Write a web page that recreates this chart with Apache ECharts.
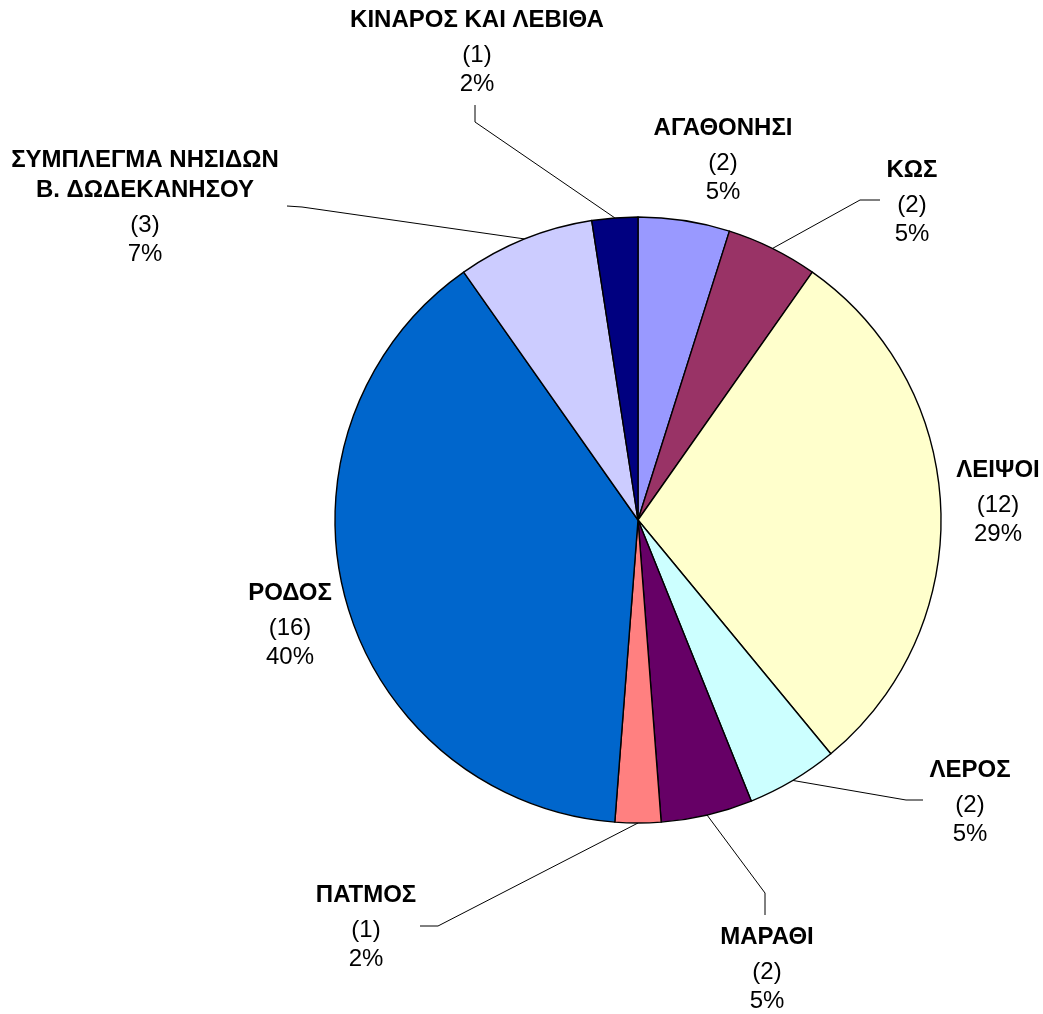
<!DOCTYPE html>
<html>
<head>
<meta charset="utf-8">
<script src="https://cdn.jsdelivr.net/npm/echarts@6/dist/echarts.min.js"></script>
<style>
html,body{margin:0;padding:0;background:#fff;}
#chart{width:1043px;height:1014px;}
</style>
</head>
<body>
<div id="chart"></div>
<script>
// Data (clockwise from 12 o'clock)
const categories = ['ΑΓΑΘΟΝΗΣΙ', 'ΚΩΣ', 'ΛΕΙΨΟΙ', 'ΛΕΡΟΣ', 'ΜΑΡΑΘΙ', 'ΠΑΤΜΟΣ', 'ΡΟΔΟΣ', 'ΣΥΜΠΛΕΓΜΑ ΝΗΣΙΔΩΝ\nΒ. ΔΩΔΕΚΑΝΗΣΟΥ', 'ΚΙΝΑΡΟΣ ΚΑΙ ΛΕΒΙΘΑ'];
const counts = [2, 2, 12, 2, 2, 1, 16, 3, 1];
const percentLabels = ['5%', '5%', '29%', '5%', '5%', '2%', '40%', '7%', '2%'];

// Styling / layout (not data)
const colors = ['#9999FF', '#993366', '#FFFFCC', '#CCFFFF', '#660066', '#FF8080', '#0066CC', '#CCCCFF', '#000080'];
const labelAt = [[723,157],[912,199],[998,499],[970,799],[767,966],[366,924],[290,622],[145,204],[477,49]];
const leader = [null, [[860,200],[880,200]], null, [[906,800],[923,800]], [[765,893],[765,915]], [[438,926],[420,926]], null, [[302,207],[287,206]], [[475,122],[475,105]]];

const FONT = '"Liberation Sans", Arial, sans-serif';
const chart = echarts.init(document.getElementById('chart'), null, {renderer: 'canvas'});
const data = categories.map((c, i) => ({
  name: c,
  value: counts[i],
  itemStyle: {color: colors[i]},
  labelLine: {show: !!leader[i]}
}));

chart.setOption({
  backgroundColor: '#ffffff',
  animation: false,
  series: [{
    type: 'pie',
    center: [638, 520],
    radius: 303,
    startAngle: 90,
    clockwise: true,
    avoidLabelOverlap: false,
    data: data,
    itemStyle: {borderColor: '#000', borderWidth: 1.4},
    emphasis: {disabled: true},
    label: {
      show: true,
      position: 'outside',
      formatter: function (p) {
        const i = p.dataIndex;
        const nameLines = categories[i].split('\n').map(s => '{n|' + s + '}').join('\n');
        return nameLines + '\n{c|(' + counts[i] + ')}\n{v|' + percentLabels[i] + '}';
      },
      align: 'center',
      rich: {
        n: {fontFamily: FONT, fontWeight: 'bold', fontSize: 24, lineHeight: 30, color: '#000', align: 'center'},
        c: {fontFamily: FONT, fontSize: 24, lineHeight: 40, color: '#000', align: 'center'},
        v: {fontFamily: FONT, fontSize: 24, lineHeight: 18, color: '#000', align: 'center'}
      }
    },
    labelLine: {
      show: true,
      lineStyle: {color: '#000', width: 1}
    },
    labelLayout: function (params) {
      const i = params.dataIndex;
      const res = {x: labelAt[i][0], y: labelAt[i][1], align: 'center', verticalAlign: 'middle'};
      if (leader[i] && params.labelLinePoints) {
        const s = params.labelLinePoints[0];
        res.labelLinePoints = [[s[0], s[1]], leader[i][0], leader[i][1]];
      }
      return res;
    }
  }]
});
</script>
</body>
</html>
